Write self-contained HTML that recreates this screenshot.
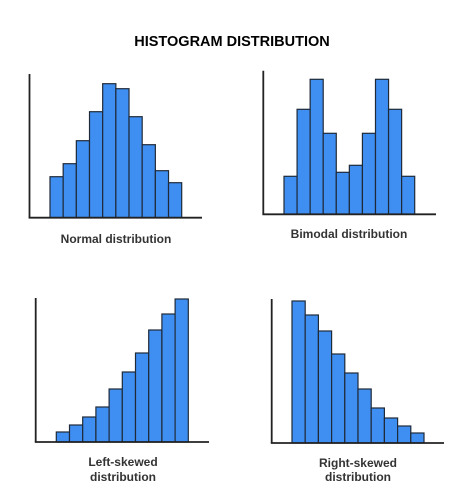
<!DOCTYPE html>
<html><head><meta charset="utf-8">
<style>
html,body{margin:0;padding:0;background:#fff;}
svg{display:block;}
text{font-family:"Liberation Sans",sans-serif;font-weight:bold;}
</style></head>
<body>
<svg id="chart" width="465" height="492" viewBox="0 0 465 492">
<text x="232" y="46" text-anchor="middle" font-size="14.5" fill="#000">HISTOGRAM DISTRIBUTION</text>
</svg>
<script>
const normalValues = [41, 54, 77, 106, 134, 129, 101, 73, 47, 35];
const bimodalValues = [38, 105, 135, 81, 42, 49, 81, 135, 105, 38];
const leftSkewValues = [10, 17, 25, 35, 53, 70, 89, 112, 128, 143];
const rightSkewValues = [142, 128, 112, 89, 70, 54, 35, 25, 17, 10];
const panelLabels = [["Normal distribution"], ["Bimodal distribution"], ["Left-skewed", "distribution"], ["Right-skewed", "distribution"]];

const svg = document.getElementById('chart');
const NS = 'http://www.w3.org/2000/svg';
function mk(tag, attrs){const e=document.createElementNS(NS,tag);for(const k in attrs)e.setAttribute(k,attrs[k]);return e;}

const panels = [
  {name:'normal', values:normalValues, ax:29.5, top:74, base:217.7, xend:202, x0:50, x1:181.7, lx:116, ly:[243]},
  {name:'bimodal', values:bimodalValues, ax:263.3, top:70.7, base:214.3, xend:436, x0:284, x1:414.7, lx:349, ly:[238]},
  {name:'left-skewed', values:leftSkewValues, ax:35.7, top:298, base:442, xend:209, x0:56.3, x1:188.3, lx:123, ly:[466, 481]},
  {name:'right-skewed', values:rightSkewValues, ax:271.7, top:299, base:443, xend:444, x0:292, x1:424, lx:358, ly:[467, 481]}
];

panels.forEach((p, pi) => {
  const g = mk('g', {});
  
  
  svg.appendChild(g);
  const n = p.values.length;
  const bw = (p.x1 - p.x0) / n;
  const xScale = i => p.x0 + i * bw;
  const yScale = v => p.base - v;
  p.values.forEach((v, i) => {
    const r = mk('rect', {x:xScale(i), y:yScale(v), width:bw, height:p.base - yScale(v), fill:'#3f8ef2', stroke:'#1f2a38', 'stroke-width':1.2});
    
    
    g.appendChild(r);
  });
  const ya = mk('line', {x1:p.ax, y1:p.top, x2:p.ax, y2:p.base, stroke:'#222', 'stroke-width':1.8});
  
  
  g.appendChild(ya);
  const xa = mk('line', {x1:p.ax - 0.9, y1:p.base, x2:p.xend, y2:p.base, stroke:'#222', 'stroke-width':1.8});
  
  
  g.appendChild(xa);
  const t = mk('text', {x:p.lx, 'text-anchor':'middle', 'font-size':12, fill:'#333'});
  
  
  panelLabels[pi].forEach((line, li) => {
    const ts = mk('tspan', {x:p.lx, y:p.ly[li]});
    ts.textContent = line;
    t.appendChild(ts);
  });
  g.appendChild(t);
});
</script>
</body></html>
